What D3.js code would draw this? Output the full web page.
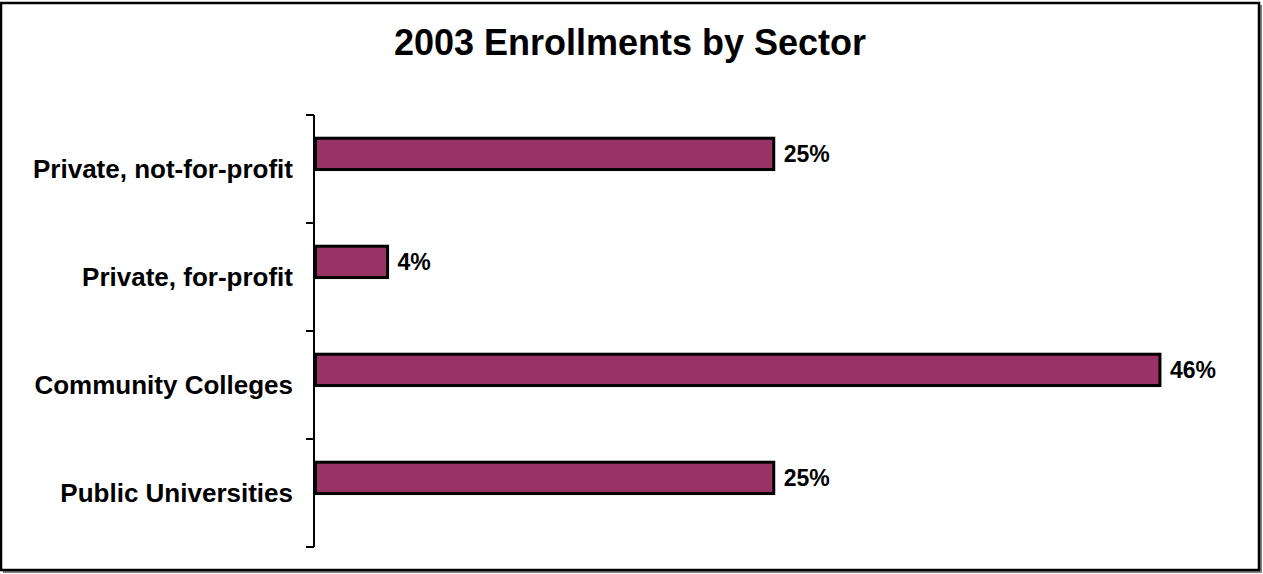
<!DOCTYPE html>
<html>
<head>
<meta charset="utf-8">
<script src="https://cdn.jsdelivr.net/npm/d3@7"></script>
<style>
  body { margin: 0; background: #fff; }
  svg { display: block; font-family: "Liberation Sans", Arial, sans-serif; }
</style>
</head>
<body>
<div id="chart"></div>
<script>
// data
const categories = ["Private, not-for-profit", "Private, for-profit", "Community Colleges", "Public Universities"];
const shares = [25, 4, 46, 25];
const title = "2003 Enrollments by Sector";

function drawChart() {
  const W = 1263, H = 574;

  const svg = d3.select("#chart")
    .append("svg")
    .attr("width", W)
    .attr("height", H);

  // frame with shadow
  svg.append("rect")
    .attr("x", 3).attr("y", 5)
    .attr("width", 1259).attr("height", 568)
    .attr("fill", "#808080");
  svg.append("rect")
    .attr("x", 1).attr("y", 3)
    .attr("width", 1258).attr("height", 567)
    .attr("fill", "#fff")
    .attr("stroke", "#000")
    .attr("stroke-width", 2.5);

  svg.append("text")
    .attr("x", 630)
    .attr("y", 55)
    .attr("text-anchor", "middle")
    .style("font-size", "36px")
    .style("font-weight", "bold")
    .text(title);

  // scales
  const x = d3.scaleLinear().domain([0, 50]).range([314, 314 + 50 * 18.39]);
  const y = d3.scaleBand().domain(categories).range([115, 547]);

  // axis
  const axis = svg.append("g")
    .attr("transform", "translate(314,0)")
    .call(d3.axisLeft(y).tickSize(0).tickFormat(""));
  axis.select(".domain").attr("stroke", "#000").attr("stroke-width", 2)
    .attr("d", `M0,${y.range()[0]}V${y.range()[1]}`);

  const edges = categories.map((c) => y(c)).concat([y.range()[1]]);
  svg.append("g")
    .selectAll("line")
    .data(edges)
    .join("line")
    .attr("x1", 306).attr("x2", 314)
    .attr("y1", (d) => d).attr("y2", (d) => d)
    .attr("stroke", "#000")
    .attr("stroke-width", 2);

  // category labels
  svg.append("g")
    .selectAll("text")
    .data(categories)
    .join("text")
    .attr("x", 293)
    .attr("y", (d) => y(d) + y.bandwidth() / 2 + 9)
    .attr("text-anchor", "end")
    .style("font-size", "26px")
    .style("font-weight", "bold")
    .text((d) => d);

  // bars
  const barTop = (c) => y(c) + y.bandwidth() * 0.215;
  const barH = y.bandwidth() * 0.29;

  svg.append("g")
    .selectAll("rect")
    .data(shares)
    .join("rect")
    .attr("x", x(0) + 1.5)
    .attr("y", (d, i) => barTop(categories[i]))
    .attr("width", (d) => x(d) - x(0) - 1.5)
    .attr("height", barH)
    .attr("fill", "#993366")
    .attr("stroke", "#000")
    .attr("stroke-width", 3);

  // value labels
  svg.append("g")
    .selectAll("text")
    .data(shares)
    .join("text")
    .attr("x", (d) => x(d) + 10)
    .attr("y", (d, i) => barTop(categories[i]) + barH / 2 + 8.5)
    .style("font-size", "23px")
    .style("font-weight", "bold")
    .text((d) => d + "%");
}

drawChart();
</script>
</body>
</html>
